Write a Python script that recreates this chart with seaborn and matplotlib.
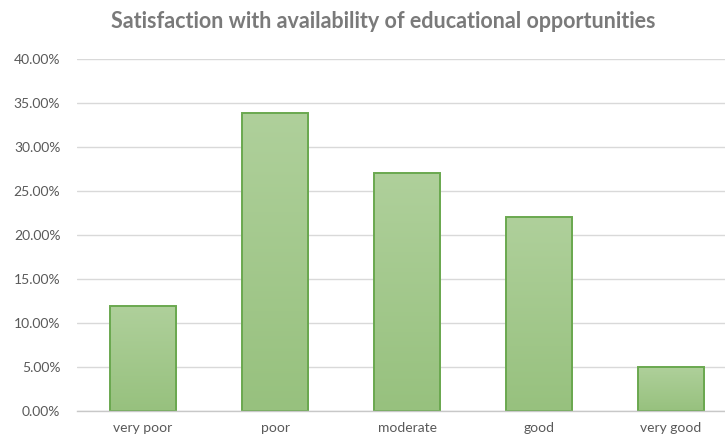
import numpy as np
import pandas as pd
import matplotlib
matplotlib.use("Agg")
import matplotlib.pyplot as plt
import seaborn as sns
from matplotlib.colors import LinearSegmentedColormap
from matplotlib.ticker import FuncFormatter, MultipleLocator

categories = ["very poor", "poor", "moderate", "good", "very good"]
shares = [11.9, 33.9, 27.0, 22.0, 5.0]
title = "Satisfaction with availability of educational opportunities"

df = pd.DataFrame({"rating": categories, "share": shares})

sns.set_theme(style="white")
plt.rcParams["font.family"] = ["Lato", "DejaVu Sans"]

fig = plt.figure(figsize=(7.25, 4.48), dpi=100)
ax = fig.add_axes([77 / 725, 37 / 448, 660 / 725, 352 / 448])

sns.barplot(data=df, x="rating", y="share", ax=ax, width=0.507,
            color="#a5c98f", edgecolor="#6aa84f", linewidth=1.4, zorder=3)

# vertical gradient fill inside every bar
cmap = LinearSegmentedColormap.from_list("bar_grad", ["#97c17e", "#afd09b"])
grad = np.linspace(0, 1, 256).reshape(-1, 1)
for patch in ax.patches:
    x0, y0 = patch.get_x(), patch.get_y()
    w, h = patch.get_width(), patch.get_height()
    im = ax.imshow(grad, cmap=cmap, origin="lower", aspect="auto",
                   extent=[x0, x0 + w, y0, y0 + h], zorder=3.5,
                   interpolation="bicubic")
    im.set_clip_path(patch)
    patch.set_facecolor("none")
    patch.set_zorder(4)

ax.set_xlim(-0.5, 4.5)
ax.set_ylim(0, 40)
ax.yaxis.set_major_locator(MultipleLocator(5))
ax.yaxis.set_major_formatter(FuncFormatter(lambda v, _: f"{v:.2f}%"))
ax.grid(axis="y", color="#d9d9d9", linewidth=1.0, zorder=0)
for side in ["top", "right", "left"]:
    ax.spines[side].set_visible(False)
ax.spines["bottom"].set_color("#c8c8c8")
ax.spines["bottom"].set_linewidth(1.0)
ax.spines["bottom"].set_zorder(5)
ax.tick_params(axis="both", length=0, labelsize=10, labelcolor="#595959")
ax.tick_params(axis="y", pad=12)
ax.tick_params(axis="x", pad=8)
ax.set_xlabel("")
ax.set_ylabel("")

fig.text(383 / 725, 1 - 22 / 448, title, ha="center", va="center",
         fontsize=15.5, fontweight="bold", color="#7a7a7a")

fig.savefig("out.png", dpi=100)
